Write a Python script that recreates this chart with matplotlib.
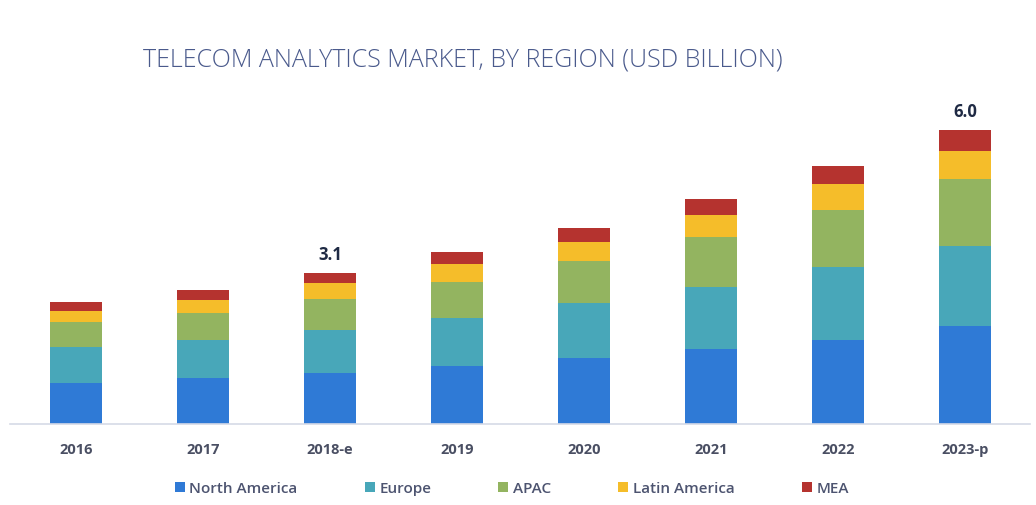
import numpy as np
import matplotlib.pyplot as plt

# values (USD billion)
years = ["2016", "2017", "2018-e", "2019", "2020", "2021", "2022", "2023-p"]
north_america = [0.83, 0.94, 1.03, 1.18, 1.34, 1.52, 1.72, 2.00]
europe = [0.73, 0.77, 0.88, 0.98, 1.12, 1.28, 1.47, 1.62]
apac = [0.52, 0.56, 0.64, 0.73, 0.86, 1.01, 1.17, 1.37]
latin_america = [0.22, 0.26, 0.32, 0.36, 0.38, 0.45, 0.52, 0.58]
mea = [0.19, 0.20, 0.21, 0.25, 0.30, 0.32, 0.37, 0.42]
labelled = {"2018-e": "3.1", "2023-p": "6.0"}

series = [north_america, europe, apac, latin_america, mea]
names = ["North America", "Europe", "APAC", "Latin America", "MEA"]
colors = ["#2f7ad6", "#48a7b9", "#93b460", "#f5bd2a", "#b5332f"]

fig = plt.figure(figsize=(10.36, 5.06), dpi=100)
ax = fig.add_axes([10 / 1036, 81 / 506, 1020 / 1036, 325 / 506])

x = np.arange(len(years))
bottom = np.zeros(len(years))
for vals, name, c in zip(series, names, colors):
    ax.bar(x, vals, 0.41, bottom=bottom, color=c, label=name)
    bottom += np.array(vals)

for i, yr in enumerate(years):
    if yr in labelled:
        ax.text(x[i], bottom[i] + 0.2, labelled[yr], ha="center", va="bottom",
                fontsize=12, fontweight="bold", color="#1f2a44", family="Open Sans")

ax.set_xlim(-0.52, 7.51)
ax.set_ylim(0, 6.62)
ax.set_xticks(x)
ax.set_xticklabels(years, fontsize=10.5, color="#4a4f63", family="Open Sans", fontweight="bold")
ax.tick_params(axis="x", length=0, pad=13)
ax.set_yticks([])
for s in ["top", "left", "right"]:
    ax.spines[s].set_visible(False)
ax.spines["bottom"].set_color("#d6dae6")
ax.spines["bottom"].set_linewidth(1.2)

fig.text(0.447, 0.882, "TELECOM ANALYTICS MARKET, BY REGION (USD BILLION)", ha="center", va="center",
         fontsize=18, color="#4a5a8c", family="Open Sans", fontweight="light")

leg = fig.legend(loc="center", bbox_to_anchor=(0.494, 0.033), ncol=5, frameon=False,
                 handlelength=0.65, handleheight=0.65, columnspacing=4.4, handletextpad=0.3,
                 prop={"family": "Open Sans", "size": 11, "weight": "semibold"})
for t in leg.get_texts():
    t.set_color("#4d5470")

fig.savefig("out.png", dpi=100)
